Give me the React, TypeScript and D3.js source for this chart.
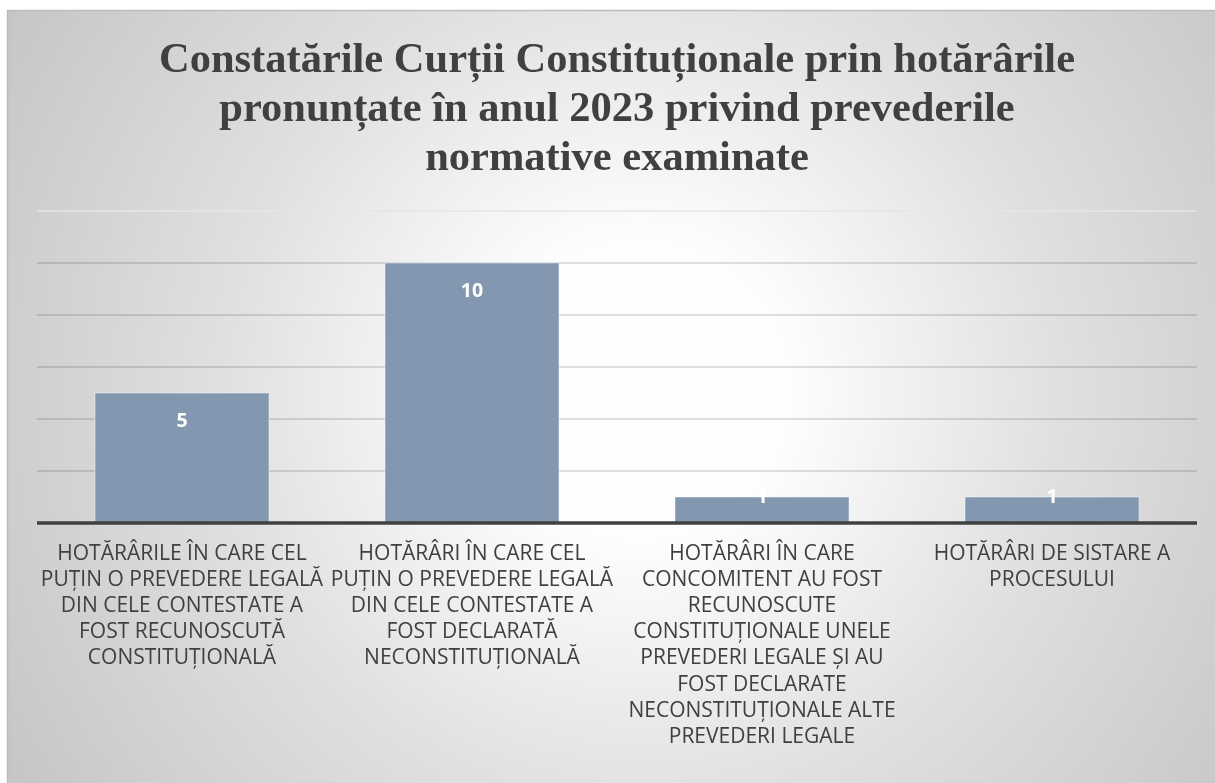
import { useEffect, useRef } from 'react'
import * as d3 from 'd3'

// chart values
const categories: string[][] = [
    ['HOTĂRÂRILE ÎN CARE CEL', 'PUȚIN O PREVEDERE LEGALĂ', 'DIN CELE CONTESTATE A', 'FOST RECUNOSCUTĂ', 'CONSTITUȚIONALĂ'],
    ['HOTĂRÂRI ÎN CARE CEL', 'PUȚIN O PREVEDERE LEGALĂ', 'DIN CELE CONTESTATE A', 'FOST DECLARATĂ', 'NECONSTITUȚIONALĂ'],
    ['HOTĂRÂRI ÎN CARE', 'CONCOMITENT AU FOST', 'RECUNOSCUTE', 'CONSTITUȚIONALE UNELE', 'PREVEDERI LEGALE ȘI AU', 'FOST DECLARATE', 'NECONSTITUȚIONALE ALTE', 'PREVEDERI LEGALE'],
    ['HOTĂRÂRI DE SISTARE A', 'PROCESULUI'],
]
const values: number[] = [5, 10, 1, 1]
const gridTicks: number[] = [0, 2, 4, 6, 8, 10, 12]
const titleLines: string[] = [
    'Constatările Curții Constituționale prin hotărârile',
    'pronunțate în anul 2023 privind prevederile',
    'normative examinate',
]

export default function App() {
    const svgRef = useRef<SVGSVGElement>(null)

    useEffect(() => {
        const width = 1215
        const height = 783
        const marginLeft = 37
        const marginRight = 18
        const plotTop = 211
        const plotBottom = 523

        const svg = d3.select(svgRef.current)
        svg.selectAll('*').remove()
        svg.attr('width', width).attr('height', height)

        // background: radial grey-to-white fill like the office chart
        const defs = svg.append('defs')
        const grad = defs.append('radialGradient')
            .attr('id', 'bg')
            .attr('gradientUnits', 'userSpaceOnUse')
            .attr('cx', 640).attr('cy', 390).attr('r', 760)
        grad.append('stop').attr('offset', '0').attr('stop-color', '#ffffff')
        grad.append('stop').attr('offset', '0.2').attr('stop-color', '#fdfdfd')
        grad.append('stop').attr('offset', '0.55').attr('stop-color', '#e0e0e0')
        grad.append('stop').attr('offset', '1').attr('stop-color', '#c4c4c4')

        svg.append('rect')
            .attr('width', width).attr('height', height)
            .attr('fill', '#ffffff')
        svg.append('rect')
            .attr('x', 7.5).attr('y', 10.5)
            .attr('width', 1230).attr('height', 800)
            .attr('fill', 'url(#bg)')
            .attr('stroke', '#bdbdbd')
            .attr('stroke-width', 1.5)

        // title
        svg.append('g')
            .selectAll('text')
            .data(titleLines)
            .join('text')
            .attr('x', 617)
            .attr('y', (_d, i) => 72 + i * 49)
            .attr('text-anchor', 'middle')
            .style('font-family', '"Liberation Serif", "Times New Roman", serif')
            .style('font-weight', 'bold')
            .style('font-size', '42.5px')
            .style('fill', '#404040')
            .text((d) => d)

        // scales
        const x = d3.scaleBand<number>()
            .domain(values.map((_d, i) => i))
            .range([marginLeft, width - marginRight])
            .paddingInner(0.4)
            .paddingOuter(0.2)
        const y = d3.scaleLinear()
            .domain([0, 12])
            .range([plotBottom, plotTop])

        // gridlines (darker where the fill is grey, light in the white middle)
        svg.append('g')
            .selectAll('line')
            .data(gridTicks.filter((t) => t > 0))
            .join('line')
            .attr('x1', marginLeft)
            .attr('x2', width - marginRight)
            .attr('y1', (d) => y(d))
            .attr('y2', (d) => y(d))
            .attr('stroke', (d) => (d === 12 ? '#e6e6e6' : '#d6d6d6'))
            .style('mix-blend-mode', (d) => (d === 12 ? 'normal' : 'multiply'))
            .attr('stroke-width', 1.5)

        // bars
        svg.append('g')
            .selectAll('rect')
            .data(values)
            .join('rect')
            .attr('x', (_d, i) => x(i)!)
            .attr('y', (d) => y(d))
            .attr('width', x.bandwidth())
            .attr('height', (d) => y(0) - y(d))
            .attr('fill', '#8497b0')
            .attr('stroke', 'rgba(255,255,255,0.45)')
            .attr('stroke-width', 1)

        // baseline
        svg.append('line')
            .attr('x1', marginLeft)
            .attr('x2', width - marginRight)
            .attr('y1', y(0))
            .attr('y2', y(0))
            .attr('stroke', '#404040')
            .attr('stroke-width', 3.5)

        // value labels, inside end
        svg.append('g')
            .selectAll('text')
            .data(values)
            .join('text')
            .attr('x', (_d, i) => x(i)! + x.bandwidth() / 2)
            .attr('y', (d) => (y(0) - y(d) > 40 ? y(d) + 27.5 : y(d) - 1))
            .attr('dy', '0.35em')
            .attr('text-anchor', 'middle')
            .style('font-family', '"Open Sans", sans-serif')
            .style('font-weight', 'bold')
            .style('font-size', '19.5px')
            .style('fill', '#ffffff')
            .text((d) => d)

        // category labels
        const cat = svg.append('g')
            .selectAll('text')
            .data(categories)
            .join('text')
            .attr('text-anchor', 'middle')
            .style('font-family', '"Open Sans", sans-serif')
            .style('font-size', '21px')
            .style('fill', '#404040')
        cat.selectAll('tspan')
            .data((d, i) => d.map((line) => ({ line, i })))
            .join('tspan')
            .attr('x', (d) => x(d.i)! + x.bandwidth() / 2)
            .attr('y', (_d, j) => 560 + j * 26.1)
            .text((d) => d.line)
    }, [])

    return (
        <div style={{ position: 'fixed', left: 0, top: 0 }}>
            <svg ref={svgRef} style={{ display: 'block' }}></svg>
        </div>
    )
}
